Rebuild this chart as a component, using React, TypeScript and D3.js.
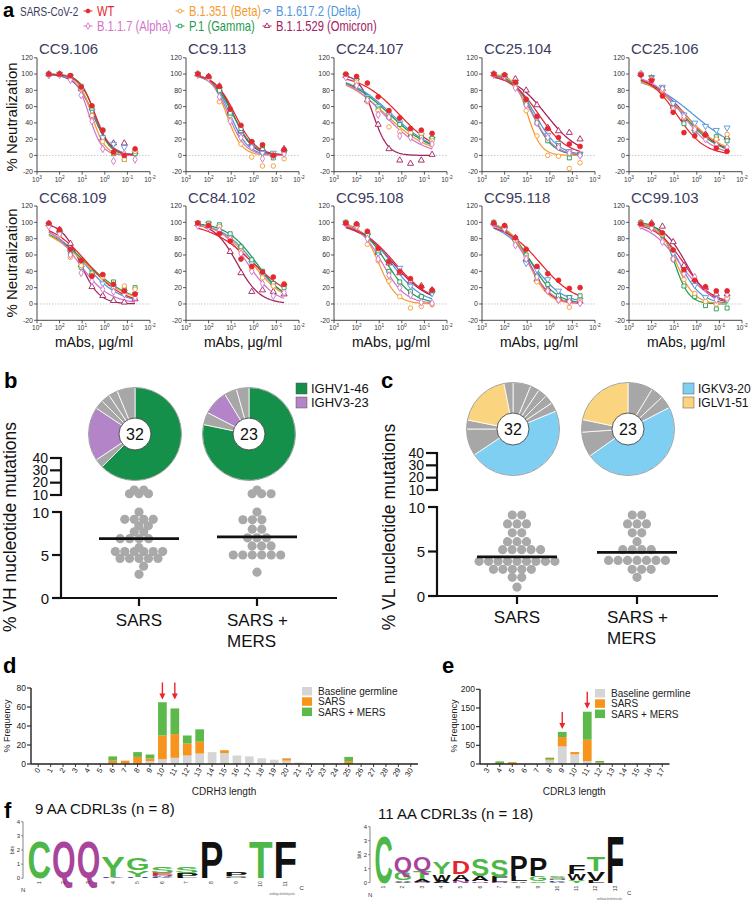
import React, { useMemo } from 'react';
import * as d3 from 'd3';

const FONT = "'Liberation Sans', Arimo, Arial, Helvetica, sans-serif";

// ---------------- Panel a data ----------------
const variantNames = ['WT', 'B.1.1.7 (Alpha)', 'B.1.351 (Beta)', 'P.1 (Gamma)', 'B.1.617.2 (Delta)', 'B.1.1.529 (Omicron)'];
const variantColors = ['#e8272d', '#d274c8', '#f79a2e', '#1f9a4e', '#4f96dd', '#a3205f'];
const variantShapes = ['circle', 'diamond', 'circle', 'square', 'triangleDown', 'triangleUp'];
const variantFilled = [true, false, false, false, false, false];
const legendRows = [[0, 2, 4], [1, 3, 5]];
const concentrations = [300, 100, 33.3, 11.1, 3.7, 1.23, 0.412, 0.137, 0.0457];
const xTickExponents = [3, 2, 1, 0, -1, -2];
const yTicksA = [-20, 0, 20, 40, 60, 80, 100, 120];
const antibodyNames = ['CC9.106', 'CC9.113', 'CC24.107', 'CC25.104', 'CC25.106', 'CC68.109', 'CC84.102', 'CC95.108', 'CC95.118', 'CC99.103'];

// rows: WT, Alpha, Beta, Gamma, Delta, Omicron
const cc9_106 = [
  [100, 100, 98, 84, 61, 31, 4, 0, 8],
  [99, 99, 93, 74, 42, 8, -7, 2, -5],
  [100, 100, 97, 82, 49, 17, 3, -5, 5],
  [100, 100, 98, 85, 58, 31, 2, -5, 2],
  [99, 100, 97, 80, 55, 22, 14, 10, 3],
  [100, 100, 97, 82, 50, 21, 15, 15, 4],
];
const cc9_113 = [
  [100, 97, 85, 57, 37, 17, 13, 0, 7],
  [99, 95, 72, 42, 22, 10, -4, 0, 2],
  [100, 95, 66, 44, 14, -2, -13, -13, -4],
  [100, 96, 80, 52, 33, 16, 12, -3, 5],
  [100, 95, 78, 48, 25, 10, 3, 3, 4],
  [100, 97, 85, 54, 30, 15, 8, 1, 8],
];
const cc24_107 = [
  [100, 97, 89, 72, 55, 46, 33, 31, 27],
  [96, 86, 68, 50, 47, 24, 22, 18, 14],
  [98, 90, 66, 55, 35, 29, 28, 27, 18],
  [99, 92, 70, 57, 47, 38, 25, 22, 21],
  [98, 92, 72, 60, 50, 40, 30, 25, 20],
  [98, 88, 68, 38, 8, -6, -10, -6, 1],
];
const cc25_104 = [
  [100, 99, 90, 69, 48, 33, 22, 14, 11],
  [99, 97, 83, 62, 40, 22, 10, 3, 0],
  [100, 97, 85, 55, 24, 0, -1, -16, -9],
  [100, 97, 88, 64, 40, 18, 12, -3, 1],
  [100, 98, 87, 65, 45, 25, 15, 5, 2],
  [100, 98, 94, 80, 62, 34, 30, 28, 20],
];
const cc25_106 = [
  [99, 92, 73, 53, 28, 24, 25, 9, 5],
  [100, 93, 82, 57, 48, 32, 20, 13, 10],
  [100, 94, 80, 58, 46, 34, 23, 20, 26],
  [100, 95, 82, 58, 39, 30, 24, 23, 18],
  [99, 96, 84, 64, 50, 40, 36, 31, 34],
  [100, 95, 82, 60, 45, 33, 26, 21, 22],
];
const cc68_109 = [
  [99, 91, 67, 53, 34, 36, 24, 16, 12],
  [95, 86, 60, 38, 28, 18, 15, 12, 8],
  [97, 84, 57, 47, 35, 33, 24, 22, 18],
  [97, 87, 61, 45, 38, 35, 27, 18, 20],
  [97, 86, 63, 49, 35, 25, 20, 15, 12],
  [98, 91, 74, 48, 21, 10, 4, 2, 6],
];
const cc84_102 = [
  [99, 96, 86, 77, 55, 46, 39, 33, 24],
  [96, 94, 90, 80, 62, 40, 25, 10, 14],
  [99, 97, 95, 80, 65, 42, 32, 22, 25],
  [99, 99, 97, 86, 70, 54, 40, 25, 20],
  [99, 98, 94, 82, 68, 50, 35, 23, 22],
  [98, 95, 88, 64, 38, 15, 17, 15, 12],
];
const cc95_108 = [
  [99, 98, 89, 68, 52, 40, 31, 21, 17],
  [98, 95, 80, 55, 35, 20, 11, 2, 1],
  [99, 95, 73, 53, 28, 9, -5, -3, -1],
  [100, 96, 84, 65, 40, 27, 15, 9, 16],
  [99, 96, 85, 62, 52, 44, 22, 8, 13],
  [99, 97, 87, 63, 50, 38, 28, 22, 17],
];
const cc95_118 = [
  [99, 96, 81, 67, 46, 37, 29, 19, 20],
  [98, 92, 72, 55, 33, 16, 5, 3, 1],
  [99, 94, 78, 57, 27, 16, 4, -4, 4],
  [100, 95, 80, 60, 34, 24, 10, 8, 10],
  [97, 93, 76, 50, 42, 30, 16, 8, 5],
  [99, 95, 81, 55, 30, 18, 8, 5, 3],
];
const cc99_103 = [
  [98, 98, 87, 66, 42, 29, 21, 16, 16],
  [96, 93, 76, 55, 37, 33, 20, 5, 12],
  [99, 96, 85, 56, 30, 13, 3, 0, 7],
  [100, 97, 84, 55, 22, 9, -2, -6, -5],
  [98, 96, 83, 62, 38, 23, 8, 6, 5],
  [99, 99, 95, 76, 47, 30, 20, 12, 12],
];
const antibodyData = [cc9_106, cc9_113, cc24_107, cc25_104, cc25_106, cc68_109, cc84_102, cc95_108, cc95_118, cc99_103];

// ---------------- Panel b / c data ----------------
const bPieSarsCounts = [20, 1, 6, 1, 1, 1, 2];
const bPieSarsGenes = ['IGHV1-46', 'other', 'IGHV3-23', 'other', 'other', 'other', 'other'];
const bPieBothCounts = [18, 1, 2, 1, 1];
const bPieBothGenes = ['IGHV1-46', 'other', 'IGHV3-23', 'other', 'other'];
const cPieSarsCounts = [2, 1, 1, 1, 1, 15, 3, 1, 6, 1];
const cPieSarsGenes = ['other', 'other', 'other', 'other', 'other', 'IGKV3-20', 'other', 'other', 'IGLV1-51', 'other'];
const cPieBothCounts = [2, 1, 1, 11, 2, 1, 5];
const cPieBothGenes = ['other', 'other', 'other', 'IGKV3-20', 'other', 'other', 'IGLV1-51'];
const geneColors: Record<string, string> = {
  'IGHV1-46': '#14904a', 'IGHV3-23': '#b384c7', 'IGKV3-20': '#7fcff3', 'IGLV1-51': '#fbd47f', other: '#a7a7a7',
};
const bLegend = ['IGHV1-46', 'IGHV3-23'];
const cLegend = ['IGKV3-20', 'IGLV1-51'];

const vhSars = [14, 11, 11, 11, 14, 10, 9.15, 9.15, 9.15, 9.15, 8.4, 8.4, 7.7, 7.7, 6.9, 6.9, 6.9, 6.9, 5.85,
  5.4, 5.4, 5.4, 5.4, 5.4, 5.4, 4.6, 4.6, 4.6, 4.6, 4.6, 3.7, 2.75];
const vhSarsMers = [11, 11, 11, 14, 10, 9.1, 9.1, 9.1, 8.0, 8.0, 7.0, 7.0, 7.0, 6.05, 6.05, 6.05,
  5.0, 5.0, 5.0, 5.0, 5.0, 5.0, 3.0];
const vhMedians = [6.9, 7.1];
const vlSars = [9.1, 9.1, 8.1, 8.1, 8.1, 7.1, 7.1, 6.1, 6.1, 6.1, 5.2, 5.2, 5.2, 5.2, 5.2,
  3.9, 3.9, 3.9, 3.9, 3.9, 3.9, 3.9, 3.9, 3.9, 3.0, 3.0, 3.0, 3.0, 3.0, 2.1, 2.1, 1.0];
const vlSarsMers = [9.1, 9.1, 8.1, 8.1, 8.1, 7.1, 7.1, 6.1, 5.2, 5.2, 5.2, 5.2,
  4.0, 4.0, 4.0, 4.0, 4.0, 4.0, 4.0, 3.0, 3.0, 3.0, 2.1];
const vlMedians = [4.4, 4.9];
const groupNames = ['SARS', 'SARS + MERS'];
const upperTicks = [10, 20, 30, 40];
const lowerTicks = [0, 5, 10];

// ---------------- Panel d / e data ----------------
const dCategories = [0, 1, 2, 3, 4, 5, 6, 7, 8, 9, 10, 11, 12, 13, 14, 15, 16, 17, 18, 19, 20, 21, 22, 23, 24, 25, 26, 27, 28, 29, 30];
const dBaseline = [0, 0, 0, 0, 0, 0, 0.5, 0.5, 1, 3, 5, 6.5, 9, 11, 12.5, 11.5, 9, 8, 6, 4.5, 3.5, 1.5, 1, 0.7, 0.5, 0.5, 0.3, 0, 0, 0, 0];
const dSars = [0, 0, 0, 0, 0, 0, 3, 3, 6.5, 3, 25, 25, 12.5, 12.5, 0, 3, 0, 0, 0, 0, 2.5, 0, 0, 0, 0, 2.5, 0, 0, 0, 0, 0];
const dSarsMers = [0, 0, 0, 0, 0, 0, 4.5, 0, 5, 4, 35, 27, 8.5, 13, 0, 0, 0, 0, 0, 0, 0, 0, 0, 0, 0, 4.5, 0, 0, 0, 0, 0];
const dYTicks = [0, 20, 40, 60, 80];
const dArrows = [{ cat: 10, at: 68 }, { cat: 11, at: 68 }];
const eCategories = [3, 4, 5, 6, 7, 8, 9, 10, 11, 12, 13, 14, 15, 16, 17];
const eBaseline = [0, 0, 1, 0, 0, 10, 47, 26, 8, 2, 0, 0, 0, 0, 0];
const eSars = [0, 2, 4, 0, 0, 3, 25, 6, 57, 2, 0, 0, 0, 0, 0];
const eSarsMers = [0, 5, 0, 0, 0, 4, 14, 0, 75, 4, 0, 0, 0, 0, 0];
const eYTicks = [0, 50, 100, 150, 200];
const eArrows = [{ cat: 9, at: 94 }, { cat: 11, at: 148 }];
const stackNames = ['Baseline germline', 'SARS', 'SARS + MERS'];
const stackColors = ['#d5d5d5', '#f7941d', '#5cb94a'];

// ---------------- Panel f data ----------------
const logo1Stacks: [string, number][][] = [
  [['C', 2.6]],
  [['Q', 2.6]],
  [['Q', 2.6]],
  [['Y', 1.5], ['K', 0.12]],
  [['G', 0.85], ['Y', 0.5], ['H', 0.1]],
  [['S', 0.45], ['E', 0.14], ['A', 0.08], ['N', 0.08], ['K', 0.07]],
  [['S', 0.45], ['P', 0.28], ['F', 0.08]],
  [['P', 2.6]],
  [['P', 0.3], ['S', 0.08], ['N', 0.07]],
  [['T', 2.6]],
  [['F', 2.6]],
];
const logo2Stacks: [string, number][][] = [
  [['C', 3.4]],
  [['Q', 1.15], ['G', 0.6], ['A', 0.12], ['V', 0.08]],
  [['Q', 1.0], ['T', 0.6], ['A', 0.15], ['N', 0.08]],
  [['Y', 0.8], ['W', 0.5], ['A', 0.15]],
  [['D', 0.95], ['A', 0.45], ['N', 0.15]],
  [['S', 1.2], ['A', 0.35], ['N', 0.1]],
  [['S', 1.2], ['F', 0.2], ['L', 0.15], ['N', 0.08]],
  [['P', 1.5], ['L', 0.35], ['A', 0.1]],
  [['P', 1.3], ['G', 0.35], ['S', 0.1]],
  [['S', 0.15], ['N', 0.12], ['K', 0.1], ['A', 0.08]],
  [['F', 0.7], ['W', 0.45], ['Y', 0.2]],
  [['T', 1.05], ['V', 0.7], ['L', 0.15]],
  [['F', 3.4]],
];
const residueColors: Record<string, string> = {
  C: '#4db848', G: '#4db848', S: '#4db848', T: '#4db848', Y: '#4db848',
  Q: '#a8449c', N: '#a8449c',
  K: '#3f4fb5', R: '#3f4fb5', H: '#3f4fb5',
  D: '#e3262d', E: '#e3262d',
  A: '#111', V: '#111', L: '#111', I: '#111', P: '#111', W: '#111', F: '#111', M: '#111',
};
const bitsTicks = [0, 1, 2, 3, 4];

// ---------------- helpers ----------------
function fit4pl(xs: number[], ys: number[]) {
  let best = { lc: 0, h: 1, e: Infinity };
  const lx = xs.map((x) => Math.log10(x));
  for (let lc = -2; lc <= 3; lc += 0.02) {
    for (let h = 0.3; h <= 4; h += 0.05) {
      let e = 0;
      for (let i = 0; i < lx.length; i++) {
        const p = 100 / (1 + Math.pow(10, (lc - lx[i]) * h));
        const d = p - ys[i];
        e += d * d;
      }
      if (e < best.e) best = { lc, h, e };
    }
  }
  return best;
}

function symbolPath(shape: string, size: number) {
  const map: any = {
    circle: d3.symbolCircle, diamond: d3.symbolDiamond, square: d3.symbolSquare,
    triangleUp: d3.symbolTriangle, triangleDown: d3.symbolTriangle,
  };
  return d3.symbol().type(map[shape]).size(size)() as string;
}

function Marker({ v, x, y, size }: { v: number; x: number; y: number; size: number }) {
  const shape = variantShapes[v];
  const rot = shape === 'triangleDown' ? ' rotate(180)' : '';
  return (
    <path
      d={symbolPath(shape, size)}
      transform={`translate(${x},${y})${rot}`}
      fill={variantFilled[v] ? variantColors[v] : 'white'}
      stroke={variantColors[v]}
      strokeWidth={0.9}
    />
  );
}

// GraphPad-like row scatter: equal values sit side by side in a centered row;
// a row close to the previous one with the same parity is staggered by half a dot.
function rowScatter(vals: number[], yOf: (v: number) => number, cx: number, r: number) {
  const groups = d3.groups(vals.map((v, i) => ({ v, i })), (d) => d.v).sort((a, b) => b[0] - a[0]);
  const out: { x: number; y: number }[] = new Array(vals.length);
  const step = 2 * r * 1.03;
  let prevY = -1e9;
  let prevParity = -1;
  let prevShift = 0;
  let flip = 1;
  for (const [v, items] of groups) {
    const y = yOf(v);
    const n = items.length;
    let shift = 0;
    if (Math.abs(y - prevY) < 2 * r && n % 2 === prevParity && prevShift === 0) {
      shift = (r * flip);
      flip = -flip;
    }
    items.forEach((d, j) => {
      out[d.i] = { x: cx + shift + (j - (n - 1) / 2) * step, y };
    });
    prevY = y;
    prevParity = n % 2;
    prevShift = shift;
  }
  return out;
}

// ---------------- Panel a ----------------
function NeutPlot({ idx, fits }: { idx: number; fits: { lc: number; h: number }[] }) {
  const col = idx % 5;
  const row = Math.floor(idx / 5);
  const colX = [37, 186, 334, 482, 629];
  const x0 = colX[col];
  const yTop = row === 0 ? 57.8 : 206;
  const yBot = row === 0 ? 171.7 : 320.3;
  const titleY = row === 0 ? 54 : 203;
  const xs = d3.scaleLog().domain([1000, 0.01]).range([x0, x0 + 113]);
  const ys = d3.scaleLinear().domain([-20, 120]).range([yBot, yTop]);
  const data = antibodyData[idx];
  const lo = Math.log10(concentrations[concentrations.length - 1]);
  const hi = Math.log10(concentrations[0]);
  const samples = d3.range(0, 81).map((i) => hi + ((lo - hi) * i) / 80);
  const order = [5, 4, 3, 2, 1, 0];
  return (
    <g>
      <text x={x0 + 2} y={titleY} fontSize={15} fill="#3c3c5e">{antibodyNames[idx]}</text>
      <line x1={x0} x2={x0 + 113} y1={ys(0)} y2={ys(0)} stroke="#bdbdbd" strokeWidth={0.8} strokeDasharray="1.5,1.5" />
      {order.map((v) => {
        const f = fits[v];
        const path = d3.line<number>()
          .x((lx) => xs(Math.pow(10, lx)))
          .y((lx) => ys(100 / (1 + Math.pow(10, (f.lc - lx) * f.h)))) (samples);
        return <path key={'c' + v} d={path || ''} fill="none" stroke={variantColors[v]} strokeWidth={1.25} />;
      })}
      {order.map((v) => (
        <g key={'m' + v}>
          {data[v].map((val, i) => (
            <Marker key={i} v={v} x={xs(concentrations[i])} y={ys(val)} size={v === 0 ? 18 : 16} />
          ))}
        </g>
      ))}
      {/* axes */}
      <line x1={x0} x2={x0} y1={yTop} y2={yBot} stroke="#333" strokeWidth={0.9} />
      <line x1={x0} x2={x0 + 113} y1={yBot} y2={yBot} stroke="#333" strokeWidth={0.9} />
      {yTicksA.map((t) => (
        <g key={'y' + t}>
          <line x1={x0 - 3} x2={x0} y1={ys(t)} y2={ys(t)} stroke="#333" strokeWidth={0.8} />
          <text x={x0 - 4} y={ys(t) + 2.4} fontSize={7} textAnchor="end" fill="#333">{t}</text>
        </g>
      ))}
      {xTickExponents.map((e) => (
        <g key={'x' + e}>
          <line x1={xs(Math.pow(10, e))} x2={xs(Math.pow(10, e))} y1={yBot} y2={yBot + 3} stroke="#333" strokeWidth={0.8} />
          <text x={xs(Math.pow(10, e))} y={yBot + 10} fontSize={6.5} textAnchor="middle" fill="#333">
            10<tspan dy={-3} fontSize={4.8}>{e < 0 ? '-' + Math.abs(e) : e}</tspan>
          </text>
        </g>
      ))}
      {row === 1 && (
        <text x={x0 + 57} y={347} fontSize={14} textAnchor="middle" fill="#111">mAbs, μg/ml</text>
      )}
    </g>
  );
}

function PanelA() {
  const fits = useMemo(() => antibodyData.map((ab) => ab.map((vals) => fit4pl(concentrations, vals))), []);
  const legX = [88, 180, 267];
  const legY = [11, 26];
  const sx = 0.8;
  return (
    <g>
      <text x={3} y={17} fontSize={20} fontWeight="bold">a</text>
      <text x={20} y={16} fontSize={13.5} fill="#3c3c5e" transform="translate(20,0) scale(0.74,1) translate(-20,0)">SARS-CoV-2</text>
      {legendRows.map((rowV, r) =>
        rowV.map((v, c) => (
          <g key={v}>
            <line x1={legX[c] - 4.5} x2={legX[c] + 4.5} y1={legY[r]} y2={legY[r]} stroke={variantColors[v]} strokeWidth={1} />
            <Marker v={v} x={legX[c]} y={legY[r]} size={12} />
            <text
              x={legX[c] + 9} y={legY[r] + 5} fontSize={14} fill={variantColors[v]}
              transform={`translate(${legX[c] + 9},0) scale(${sx},1) translate(${-(legX[c] + 9)},0)`}
            >
              {variantNames[v]}
            </text>
          </g>
        ))
      )}
      <text transform="translate(17,117) rotate(-90)" fontSize={15} textAnchor="middle" fill="#111">% Neutralization</text>
      <text transform="translate(17,263) rotate(-90)" fontSize={15} textAnchor="middle" fill="#111">% Neutralization</text>
      {antibodyNames.map((_, i) => (
        <NeutPlot key={i} idx={i} fits={fits[i]} />
      ))}
    </g>
  );
}

// ---------------- Panels b / c ----------------
function Pie({ cx, cy, counts, genes, label }: { cx: number; cy: number; counts: number[]; genes: string[]; label: string }) {
  const pie = d3.pie<number>().sort(null).value((d) => d);
  const arcs = pie(counts);
  const arc = d3.arc<d3.PieArcDatum<number>>().innerRadius(0).outerRadius(46.5);
  return (
    <g transform={`translate(${cx},${cy})`}>
      {arcs.map((a, i) => (
        <path key={i} d={arc(a) || ''} fill={geneColors[genes[i]]} stroke="#fff" strokeWidth={0.8} />
      ))}
      <circle r={46.5} fill="none" stroke="#6b6b6b" strokeWidth={0.6} />
      <circle r={16} fill="#fff" stroke="#333" strokeWidth={0.8} />
      <text y={6} fontSize={16} textAnchor="middle" fill="#111">{label}</text>
    </g>
  );
}

function MutPanel({
  letter, letterX, axisX, axisEnd, zeroY, tenY, upTenY, upFortyY, groupX, groupVals, medians,
  pieCenters, pies, legend, legendX, legendFont, ylabel, ylabelX, labelBase,
}: any) {
  const lower = d3.scaleLinear().domain([0, 10]).range([zeroY, tenY]);
  const upper = d3.scaleLinear().domain([10, 40]).range([upTenY, upFortyY]);
  const yOf = (v: number) => (v > 10 ? upper(v) : lower(v));
  const r = 4.6;
  return (
    <g>
      <text x={letterX} y={388} fontSize={22} fontWeight="bold">{letter}</text>
      {pies.map((p: any, i: number) => (
        <Pie key={i} cx={pieCenters[i][0]} cy={pieCenters[i][1]} counts={p.counts} genes={p.genes} label={p.label} />
      ))}
      {legend.map((g: string, i: number) => (
        <g key={g}>
          <rect x={legendX} y={383 + i * 14} width={11} height={11} fill={geneColors[g]} stroke="#555" strokeWidth={0.5} />
          <text x={legendX + 15} y={393 + i * 14} fontSize={legendFont} fill="#111">{g}</text>
        </g>
      ))}
      <text transform={`translate(${ylabelX},527) rotate(-90)`} fontSize={17.5} textAnchor="middle" fill="#111">{ylabel}</text>
      {/* upper axis segment */}
      <line x1={axisX} x2={axisX} y1={upper(40) - 1} y2={upper(10) + 1} stroke="#111" strokeWidth={2.2} />
      {upperTicks.map((t) => (
        <g key={'u' + t}>
          <line x1={axisX - 11} x2={axisX} y1={upper(t)} y2={upper(t)} stroke="#111" strokeWidth={2.2} />
          <text x={axisX - 13} y={upper(t) + 4.5} fontSize={14} textAnchor="end" fill="#111">{t}</text>
        </g>
      ))}
      {/* lower axis */}
      <line x1={axisX} x2={axisX} y1={lower(10) - 1} y2={zeroY + 1} stroke="#111" strokeWidth={2.2} />
      <line x1={axisX - 1} x2={axisEnd} y1={zeroY} y2={zeroY} stroke="#111" strokeWidth={2.2} />
      {lowerTicks.map((t) => (
        <g key={'l' + t}>
          <line x1={axisX - 9} x2={axisX} y1={lower(t)} y2={lower(t)} stroke="#111" strokeWidth={2.2} />
          <text x={axisX - 12} y={lower(t) + 5.5} fontSize={15} textAnchor="end" fill="#111">{t}</text>
        </g>
      ))}
      {groupX.map((gx: number, gi: number) => {
        const pts = rowScatter(groupVals[gi], yOf, gx, r);
        return (
          <g key={gi}>
            <line x1={gx} x2={gx} y1={zeroY} y2={zeroY + 8} stroke="#111" strokeWidth={2.2} />
            {pts.map((p, i) => (
              <circle key={i} cx={p.x} cy={p.y} r={r} fill="#a9a9a9" />
            ))}
            <line x1={gx - 40} x2={gx + 40} y1={lower(medians[gi])} y2={lower(medians[gi])} stroke="#111" strokeWidth={2.8} />
          </g>
        );
      })}
      <text x={groupX[0]} y={labelBase} fontSize={17} textAnchor="middle" fill="#111">{groupNames[0]}</text>
      <text x={groupX[1] - 30} y={labelBase} fontSize={17} fill="#111">{groupNames[1].split(' + ')[0] + ' +'}</text>
      <text x={groupX[1] - 30} y={labelBase + 21} fontSize={17} fill="#111">{groupNames[1].split(' + ')[1]}</text>
    </g>
  );
}

// ---------------- Panels d / e ----------------
function StackPanel({
  letter, letterX, axisX, rangeEnd, cats, series, yMax, yTicks, yTopPx, arrows, legendX, legendY, xlabel, ylabelX,
}: any) {
  const zeroY = 764;
  const x = d3.scaleBand<number>().domain(cats).range([axisX + 1, rangeEnd]).paddingInner(0.3).paddingOuter(0.15);
  const y = d3.scaleLinear().domain([0, yMax]).range([zeroY, yTopPx]);
  const stack = d3.stack<number>().keys(['0', '1', '2']).value((i, k) => series[+k][i]);
  const layers = stack(cats.map((_: number, i: number) => i));
  const cx = (c: number) => (x(c) as number) + x.bandwidth() / 2;
  return (
    <g>
      <text x={letterX} y={673} fontSize={22} fontWeight="bold">{letter}</text>
      {layers.map((layer, li) => (
        <g key={li}>
          {layer.map((d, i) =>
            d[1] - d[0] > 0 ? (
              <rect key={i} x={x(cats[i])} width={x.bandwidth()} y={y(d[1])} height={y(d[0]) - y(d[1])} fill={stackColors[li]} />
            ) : null
          )}
        </g>
      ))}
      {arrows.map((a: any, i: number) => {
        const tipY = y(a.at);
        const ax = cx(a.cat);
        return (
          <g key={i}>
            <line x1={ax} x2={ax} y1={tipY - 17} y2={tipY - 4} stroke="#e8262c" strokeWidth={1.4} />
            <path d={`M${ax - 3},${tipY - 6} L${ax + 3},${tipY - 6} L${ax},${tipY} Z`} fill="#e8262c" />
          </g>
        );
      })}
      <line x1={axisX} x2={axisX} y1={y(yMax)} y2={zeroY} stroke="#222" strokeWidth={1.4} />
      <line x1={axisX} x2={rangeEnd + 1} y1={zeroY} y2={zeroY} stroke="#222" strokeWidth={1.4} />
      {yTicks.map((t: number) => (
        <g key={t}>
          <line x1={axisX - 4} x2={axisX} y1={y(t)} y2={y(t)} stroke="#222" strokeWidth={1.1} />
          <text x={axisX - 5} y={y(t) + 3} fontSize={8.5} textAnchor="end" fill="#222">{t}</text>
        </g>
      ))}
      {cats.map((c: number) => (
        <g key={c}>
          <line x1={cx(c)} x2={cx(c)} y1={zeroY} y2={zeroY + 3} stroke="#222" strokeWidth={0.9} />
          <text transform={`translate(${cx(c) + 2.5},${zeroY + 6}) rotate(-60)`} fontSize={7.5} textAnchor="end" fill="#222">{c}</text>
        </g>
      ))}
      <text x={(axisX + rangeEnd) / 2} y={795} fontSize={10} textAnchor="middle" fill="#222">{xlabel}</text>
      <text transform={`translate(${ylabelX},726) rotate(-90)`} fontSize={9} textAnchor="middle" fill="#222">% Frequency</text>
      {stackNames.map((n, i) => (
        <g key={n}>
          <rect x={legendX} y={legendY + i * 10.3} width={10} height={8.5} fill={stackColors[i]} />
          <text x={legendX + 16} y={legendY + 8 + i * 10.3} fontSize={10} fill="#222">{n}</text>
        </g>
      ))}
    </g>
  );
}

// ---------------- Panel f ----------------
function Logo({ stacks, x0, posW, zeroY, bitPx, title, titleX, titleY }: any) {
  const capH = 71.6;
  const yb = d3.scaleLinear().domain([0, 4]).range([zeroY, zeroY - 4 * bitPx]);
  const axisX = x0 - 4;
  return (
    <g>
      <text x={titleX} y={titleY} fontSize={15} fill="#111">{title}</text>
      <line x1={axisX} x2={axisX} y1={yb(4)} y2={yb(0)} stroke="#333" strokeWidth={0.6} />
      {bitsTicks.map((t) => (
        <g key={t}>
          <line x1={axisX - 2} x2={axisX} y1={yb(t)} y2={yb(t)} stroke="#333" strokeWidth={0.5} />
          <text x={axisX - 3} y={yb(t) + 2} fontSize={6} textAnchor="end" fill="#333">{t}</text>
        </g>
      ))}
      <text transform={`translate(${axisX - 9},${yb(2)}) rotate(-90)`} fontSize={5} textAnchor="middle" fill="#333">bits</text>
      {stacks.map((st: [string, number][], p: number) => {
        const sorted = [...st].sort((a, b) => a[1] - b[1]);
        let acc = 0;
        const px = x0 + p * posW;
        return (
          <g key={p}>
            {sorted.map(([ch, bits], k) => {
              const bottom = yb(acc);
              acc += bits;
              const h = bottom - yb(acc);
              return (
                <g key={k} transform={`translate(${px + 0.5},${bottom}) scale(1,${h / capH})`}>
                  <text x={0} y={0} fontSize={100} fontWeight="bold" textLength={posW - 1} lengthAdjust="spacingAndGlyphs"
                    fill={residueColors[ch] || '#111'} fontFamily={FONT}>{ch}</text>
                </g>
              );
            })}
            <text transform={`translate(${px + posW / 2 + 1.5},${zeroY + 3}) rotate(-90)`} fontSize={5} textAnchor="end" fill="#333">{p + 1}</text>
          </g>
        );
      })}
      <text x={axisX - 2} y={zeroY + 14} fontSize={6} fill="#333">N</text>
      <text x={x0 + stacks.length * posW + 2} y={zeroY + 12} fontSize={6} fill="#333">C</text>
      <text x={x0 + stacks.length * posW - 28} y={zeroY + 17} fontSize={2.6} fill="#666">weblogo.berkeley.edu</text>
    </g>
  );
}

export default function App() {
  return (
    <svg width={756} height={900} viewBox="0 0 756 900" style={{ position: 'absolute', left: 0, top: 0, background: '#fff' }} fontFamily={FONT}>
      <rect width={756} height={900} fill="#fff" />
      <PanelA />
      <MutPanel
        letter="b" letterX={4} axisX={61} axisEnd={337} zeroY={598} tenY={512} upTenY={495} upFortyY={458}
        groupX={[139, 257]} groupVals={[vhSars, vhSarsMers]} medians={vhMedians}
        pieCenters={[[135, 434], [249, 434]]}
        pies={[{ counts: bPieSarsCounts, genes: bPieSarsGenes, label: '32' }, { counts: bPieBothCounts, genes: bPieBothGenes, label: '23' }]}
        legend={bLegend} legendX={296} legendFont={13} ylabel="% VH nucleotide mutations" ylabelX={16} labelBase={626}
      />
      <MutPanel
        letter="c" letterX={381} axisX={437} axisEnd={718} zeroY={596} tenY={507} upTenY={490} upFortyY={453}
        groupX={[517, 637]} groupVals={[vlSars, vlSarsMers]} medians={vlMedians}
        pieCenters={[[513, 429], [628, 429]]}
        pies={[{ counts: cPieSarsCounts, genes: cPieSarsGenes, label: '32' }, { counts: cPieBothCounts, genes: cPieBothGenes, label: '23' }]}
        legend={cLegend} legendX={683} legendFont={12} ylabel="% VL nucleotide mutations" ylabelX={395} labelBase={623}
      />
      <StackPanel
        letter="d" letterX={3} axisX={31} rangeEnd={417} cats={dCategories} series={[dBaseline, dSars, dSarsMers]}
        yMax={80} yTicks={dYTicks} yTopPx={688} arrows={dArrows} legendX={302} legendY={687}
        xlabel="CDRH3 length" ylabelX={10}
      />
      <StackPanel
        letter="e" letterX={442} axisX={480} rangeEnd={668.5} cats={eCategories} series={[eBaseline, eSars, eSarsMers]}
        yMax={200} yTicks={eYTicks} yTopPx={689.3} arrows={eArrows} legendX={595} legendY={689}
        xlabel="CDRL3 length" ylabelX={457}
      />
      <text x={4} y={818} fontSize={22} fontWeight="bold">f</text>
      <Logo stacks={logo1Stacks} x0={27} posW={24.6} zeroY={878.3} bitPx={14.15} title="9 AA CDRL3s (n = 8)" titleX={35} titleY={814} />
      <Logo stacks={logo2Stacks} x0={374} posW={19.3} zeroY={882.7} bitPx={14} title="11 AA CDRL3s (n = 18)" titleX={378} titleY={819} />
    </svg>
  );
}
